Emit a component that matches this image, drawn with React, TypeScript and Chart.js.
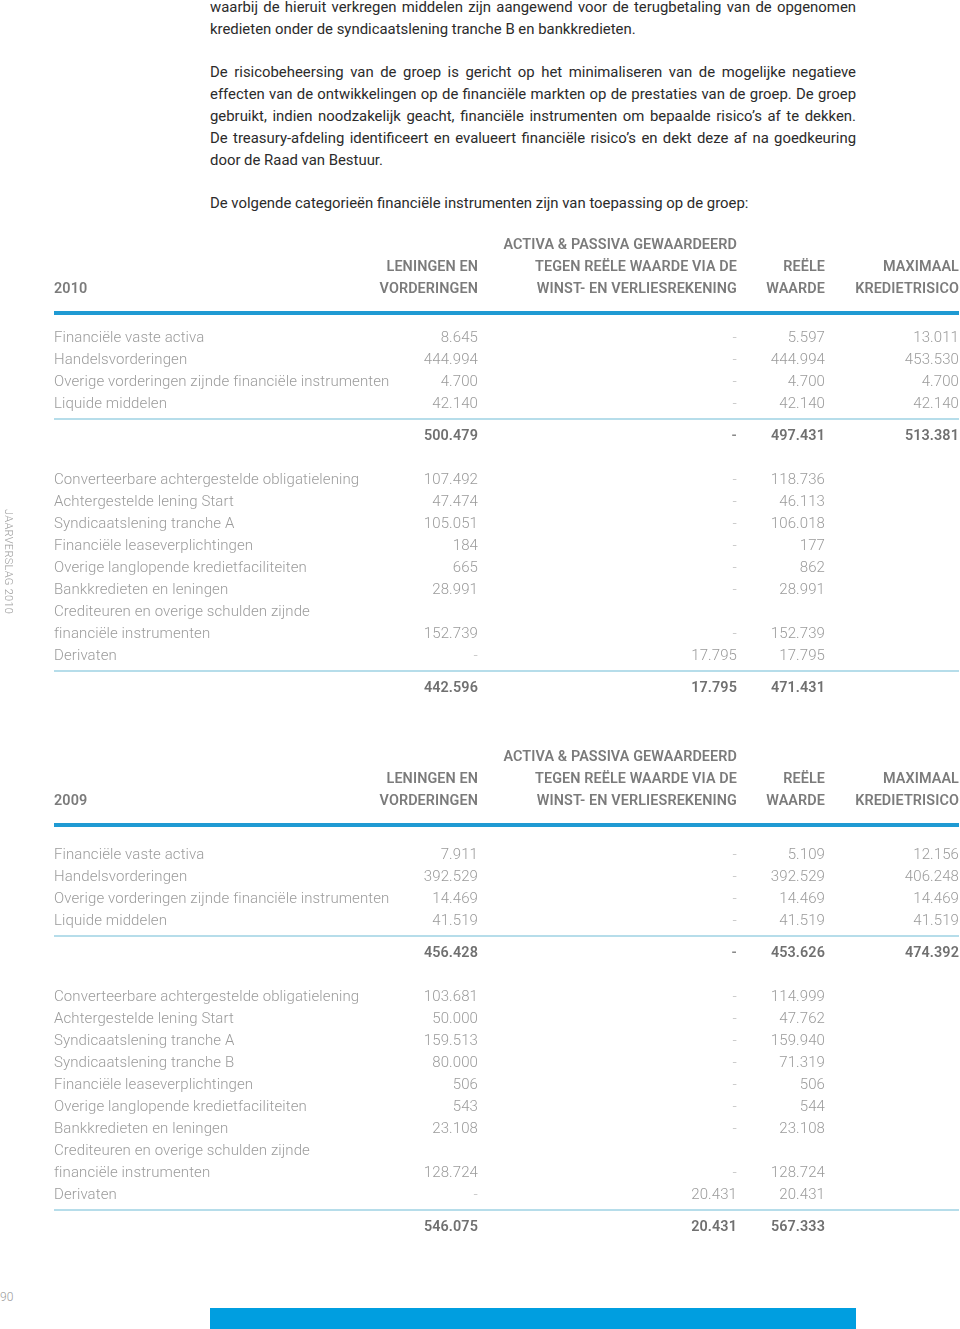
import React, { useEffect, useRef } from 'react';
import { Chart, registerables } from 'chart.js';

Chart.register(...registerables);

// ---------- text ----------
const introPara1 = [
  'waarbij de hieruit verkregen middelen zijn aangewend voor de terugbetaling van de opgenomen',
  'kredieten onder de syndicaatslening tranche B en bankkredieten.',
];
const introPara2 = [
  'De risicobeheersing van de groep is gericht op het minimaliseren van de mogelijke negatieve',
  'effecten van de ontwikkelingen op de financiële markten op de prestaties van de groep. De groep',
  'gebruikt, indien noodzakelijk geacht, financiële instrumenten om bepaalde risico’s af te dekken.',
  'De treasury-afdeling identificeert en evalueert financiële risico’s en dekt deze af na goedkeuring',
  'door de Raad van Bestuur.',
];
const introPara3 = ['De volgende categorieën financiële instrumenten zijn van toepassing op de groep:'];

// ---------- table data ----------
const columnHeaders = [
  ['LENINGEN EN', 'VORDERINGEN'],
  ['ACTIVA & PASSIVA GEWAARDEERD', 'TEGEN REËLE WAARDE VIA DE', 'WINST- EN VERLIESREKENING'],
  ['REËLE', 'WAARDE'],
  ['MAXIMAAL', 'KREDIETRISICO'],
];

const assetLabels = [
  'Financiële vaste activa',
  'Handelsvorderingen',
  'Overige vorderingen zijnde financiële instrumenten',
  'Liquide middelen',
];

// null = "-" ; undefined = empty cell
const assets2010Leningen = [8645, 444994, 4700, 42140];
const assets2010ReeleWaardePL = [null, null, null, null];
const assets2010Reele = [5597, 444994, 4700, 42140];
const assets2010MaxKrediet = [13011, 453530, 4700, 42140];
const assets2010Totals = [500479, null, 497431, 513381];

const liabilityLabels2010 = [
  'Converteerbare achtergestelde obligatielening',
  'Achtergestelde lening Start',
  'Syndicaatslening tranche A',
  'Financiële leaseverplichtingen',
  'Overige langlopende kredietfaciliteiten',
  'Bankkredieten en leningen',
  'Crediteuren en overige schulden zijnde|financiële instrumenten',
  'Derivaten',
];
const liab2010Leningen = [107492, 47474, 105051, 184, 665, 28991, 152739, null];
const liab2010ReeleWaardePL = [null, null, null, null, null, null, null, 17795];
const liab2010Reele = [118736, 46113, 106018, 177, 862, 28991, 152739, 17795];
const liab2010MaxKrediet = [undefined, undefined, undefined, undefined, undefined, undefined, undefined, undefined];
const liab2010Totals = [442596, 17795, 471431, undefined];

const assets2009Leningen = [7911, 392529, 14469, 41519];
const assets2009ReeleWaardePL = [null, null, null, null];
const assets2009Reele = [5109, 392529, 14469, 41519];
const assets2009MaxKrediet = [12156, 406248, 14469, 41519];
const assets2009Totals = [456428, null, 453626, 474392];

const liabilityLabels2009 = [
  'Converteerbare achtergestelde obligatielening',
  'Achtergestelde lening Start',
  'Syndicaatslening tranche A',
  'Syndicaatslening tranche B',
  'Financiële leaseverplichtingen',
  'Overige langlopende kredietfaciliteiten',
  'Bankkredieten en leningen',
  'Crediteuren en overige schulden zijnde|financiële instrumenten',
  'Derivaten',
];
const liab2009Leningen = [103681, 50000, 159513, 80000, 506, 543, 23108, 128724, null];
const liab2009ReeleWaardePL = [null, null, null, null, null, null, null, null, 20431];
const liab2009Reele = [114999, 47762, 159940, 71319, 506, 544, 23108, 128724, 20431];
const liab2009MaxKrediet = [undefined, undefined, undefined, undefined, undefined, undefined, undefined, undefined, undefined];
const liab2009Totals = [546075, 20431, 567333, undefined];

// ---------- layout ----------
const PAGE_W = 960;
const LABEL_X = 54;
const LINE_END = 959;
const COL_RIGHT = [478, 737, 825, 959];
const ROW = 22;
const TEXT_DY = 1.5;
const FONT = 'Roboto, "Open Sans", sans-serif';

function fmt(v: number | null | undefined): string {
  if (v === undefined) return '';
  if (v === null) return '-';
  return String(v).replace(/\B(?=(\d{3})+(?!\d))/g, '.');
}

type Section = {
  labels: string[];
  cols: (number | null | undefined)[][];
  totals: (number | null | undefined)[];
};

function FinTable(props: {
  year: string;
  top: number;
  height: number;
  firstRowGap: number;
  sections: Section[];
}) {
  const ref = useRef<HTMLCanvasElement>(null);
  useEffect(() => {
    const { year, height, firstRowGap, sections } = props;
    const head0 = 19;
    const blueY = head0 + 2 * ROW + 25;

    const plugin = {
      id: 'tableText',
      afterDraw(chart: any) {
        const ctx = chart.ctx as any;
        const xs = chart.scales.x;
        const ys = chart.scales.y;
        const X = (v: number) => xs.getPixelForValue(v);
        const Y = (v: number) => ys.getPixelForValue(v);
        const T = (v: number) => ys.getPixelForValue(v) + TEXT_DY;
        ctx.save();
        ctx.textBaseline = 'middle';

        // header
        ctx.font = `600 14.4px ${FONT}`;
        ctx.letterSpacing = '0.1px';
        ctx.fillStyle = '#7b7b7b';
        ctx.textAlign = 'left';
        ctx.fillText(year, X(LABEL_X), T(head0 + 2 * ROW));
        ctx.textAlign = 'right';
        columnHeaders.forEach((lines, c) => {
          const off = 3 - lines.length;
          lines.forEach((t, i) => ctx.fillText(t, X(COL_RIGHT[c]), T(head0 + (off + i) * ROW)));
        });

        // thick blue rule
        ctx.fillStyle = '#1f9ad3';
        ctx.fillRect(X(LABEL_X), Y(blueY) - 2, X(LINE_END) - X(LABEL_X), 4);

        let y = blueY + firstRowGap;
        sections.forEach((sec, si) => {
          if (si > 0) y += 44;
          sec.labels.forEach((lab, r) => {
            const parts = lab.split('|');
            ctx.font = `300 15px ${FONT}`;
            ctx.letterSpacing = '0.1px';
            ctx.textAlign = 'left';
            ctx.fillStyle = '#9b9b9b';
            parts.forEach((p, pi) => ctx.fillText(p, X(LABEL_X), T(y + pi * ROW)));
            const vy = y + (parts.length - 1) * ROW;
            ctx.textAlign = 'right';
            sec.cols.forEach((col, c) => {
              const v = col[r];
              if (v === undefined) return;
              ctx.fillStyle = v === null ? '#bdbdbd' : '#9b9b9b';
              ctx.fillText(fmt(v), X(COL_RIGHT[c]), T(vy));
            });
            y = vy + ROW;
          });
          y -= ROW;
          // thin rule
          const ruleY = y + 16;
          ctx.fillStyle = '#9fd2e4';
          ctx.fillRect(X(LABEL_X), Y(ruleY) - 0.75, X(LINE_END) - X(LABEL_X), 1.5);
          // totals
          const totY = ruleY + 16;
          ctx.font = `600 14.4px ${FONT}`;
          ctx.letterSpacing = '0.1px';
          ctx.textAlign = 'right';
          sec.totals.forEach((v, c) => {
            if (v === undefined) return;
            ctx.fillStyle = v === null ? '#8a8a8a' : '#707070';
            ctx.fillText(fmt(v), X(COL_RIGHT[c]), T(totY));
          });
          y = totY;
        });
        ctx.restore();
      },
    };

    const chart = new Chart(ref.current as HTMLCanvasElement, {
      type: 'scatter',
      data: { datasets: [] },
      options: {
        animation: false,
        responsive: false,
        maintainAspectRatio: false,
        events: [],
        layout: { padding: 0 },
        plugins: { legend: { display: false }, tooltip: { enabled: false } },
        scales: {
          x: { type: 'linear', min: 0, max: PAGE_W, display: false },
          y: { type: 'linear', min: 0, max: height, reverse: true, display: false },
        },
      },
      plugins: [plugin],
    } as any);
    return () => chart.destroy();
  }, []);
  return (
    <canvas
      ref={ref}
      width={PAGE_W}
      height={props.height}
      style={{ position: 'absolute', left: 0, top: props.top, width: PAGE_W, height: props.height }}
    />
  );
}

function Para({ lines, top }: { lines: string[]; top: number }) {
  return (
    <div style={{ position: 'absolute', left: 210, top, width: 646 }}>
      {lines.map((l, i) => (
        <div
          key={i}
          style={{
            height: 22,
            lineHeight: '22px',
            textAlign: 'justify',
            textAlignLast: i < lines.length - 1 ? 'justify' : 'left',
            whiteSpace: 'nowrap',
          } as any}
        >
          {l}
        </div>
      ))}
    </div>
  );
}

export default function App() {
  return (
    <div
      style={{
        position: 'absolute',
        left: 0,
        top: 0,
        width: 960,
        height: 1329,
        overflow: 'hidden',
        background: '#fff',
        fontFamily: FONT,
        fontSize: 14.9,
        color: '#2b2b2b',
      }}
    >
      <Para lines={introPara1} top={-4} />
      <Para lines={introPara2} top={61} />
      <Para lines={introPara3} top={192} />

      <FinTable
        year="2010"
        top={225}
        height={480}
        firstRowGap={24}
        sections={[
          {
            labels: assetLabels,
            cols: [assets2010Leningen, assets2010ReeleWaardePL, assets2010Reele, assets2010MaxKrediet],
            totals: assets2010Totals,
          },
          {
            labels: liabilityLabels2010,
            cols: [liab2010Leningen, liab2010ReeleWaardePL, liab2010Reele, liab2010MaxKrediet],
            totals: liab2010Totals,
          },
        ]}
      />
      <FinTable
        year="2009"
        top={737}
        height={505}
        firstRowGap={29}
        sections={[
          {
            labels: assetLabels,
            cols: [assets2009Leningen, assets2009ReeleWaardePL, assets2009Reele, assets2009MaxKrediet],
            totals: assets2009Totals,
          },
          {
            labels: liabilityLabels2009,
            cols: [liab2009Leningen, liab2009ReeleWaardePL, liab2009Reele, liab2009MaxKrediet],
            totals: liab2009Totals,
          },
        ]}
      />

      <div
        style={{
          position: 'absolute',
          left: 2,
          top: 509,
          writingMode: 'vertical-rl',
          fontSize: 11,
          fontWeight: 300,
          color: '#9a9a9a',
          letterSpacing: 0.3,
        } as any}
      >
        JAARVERSLAG 2010
      </div>
      <div style={{ position: 'absolute', left: 0, top: 1290, fontSize: 12, fontWeight: 300, color: '#9a9a9a' }}>90</div>
      <div style={{ position: 'absolute', left: 210, top: 1308, width: 646, height: 21, background: '#009ee0' }} />
    </div>
  );
}
